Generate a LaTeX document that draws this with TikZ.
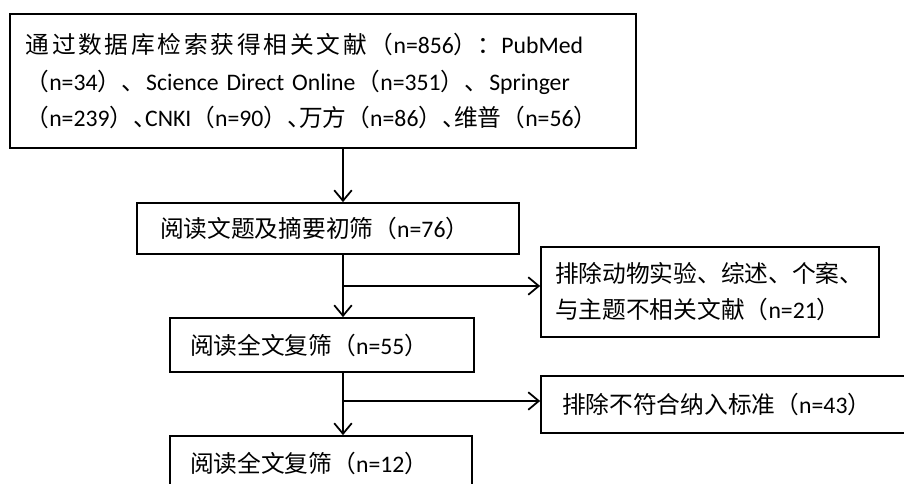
\documentclass[tikz,border=0pt]{standalone}
\usepackage{fontspec}
\setmainfont{Carlito}
\newfontfamily\cjk{Noto Sans CJK SC}
\newfontfamily\cjkhalf[RawFeature=+halt]{Noto Sans CJK SC}
\newcommand\zh[1]{{\cjk #1}}
\newcommand\dun{{\cjkhalf 、}}
\newcommand\gap{\hskip 0pt plus 0.6pt\relax}
\XeTeXlinebreaklocale "zh"
\XeTeXlinebreakskip=0pt plus 2pt
\XeTeXlinebreakpenalty=10000
\usetikzlibrary{arrows.meta}

\begin{document}
\begin{tikzpicture}[x=0.02cm,y=-0.02cm,
  stage/.style={draw,line width=1pt,font=\fontsize{13.5pt}{20.5pt}\selectfont},
  flow/.style={line width=1pt,-{Straight Barb[length=6pt,width=10pt]}}]

\useasboundingbox (0,0) rectangle (904,484);
\clip (0,0) rectangle (904,484);

\node[stage,text width=11.9cm,inner xsep=0.31cm,minimum height=2.68cm] (src) at (323,81)
 {\baselineskip=20.5pt \rightskip=0pt \parfillskip=0pt
  \zh{通过数据库检索获得相关文献（}n=856\zh{）：}PubMed\linebreak
  \zh{（}n=34\zh{）、}\gap Science Direct Online\gap\zh{（}n=351\zh{）、}\gap Springer\linebreak
  \zh{（}n=239\zh{）}\dun CNKI\zh{（}n=90\zh{）}\dun\zh{万方（}n=86\zh{）}\dun\zh{维普（}n=56\zh{）}};

\node[stage,align=left,text width=6.72cm,inner xsep=0.46cm,minimum height=1.02cm] (screen1) at (328,228.5)
 {\zh{阅读文题及摘要初筛（}n=76\zh{）}};
\node[stage,align=left,text width=6.2cm,inner xsep=0.28cm,minimum height=1.8cm] (excl1) at (710,292)
 {\zh{排除动物实验、综述、个案、}\\\zh{与主题不相关文献（}n=21\zh{）}};
\node[stage,align=left,text width=5.28cm,inner xsep=0.4cm,minimum height=1.08cm] (full1) at (322,345)
 {\zh{阅读全文复筛（}n=55\zh{）}};
\node[stage,align=left,text width=6.56cm,inner xsep=0.42cm,minimum height=1.14cm] (excl2) at (726,404.5)
 {\zh{排除不符合纳入标准（}n=43\zh{）}};
\node[stage,align=left,text width=5.24cm,inner xsep=0.4cm,minimum height=1.08cm] (full2) at (321,463)
 {\zh{阅读全文复筛（}n=12\zh{）}};

% main line and the two side exits
\coordinate (trunk) at (343,0);
\coordinate (fork1) at (343,286);
\coordinate (fork2) at (343,401);
\draw[flow] (src.south -| trunk) -- (screen1.north -| trunk);
\draw[flow] (screen1.south -| trunk) -- (full1.north -| trunk);
\draw[flow] (full1.south -| trunk) -- (full2.north -| trunk);
\draw[flow] (fork1) -- (fork1 -| excl1.west);
\draw[flow] (fork2) -- (fork2 -| excl2.west);

\end{tikzpicture}
\end{document}
